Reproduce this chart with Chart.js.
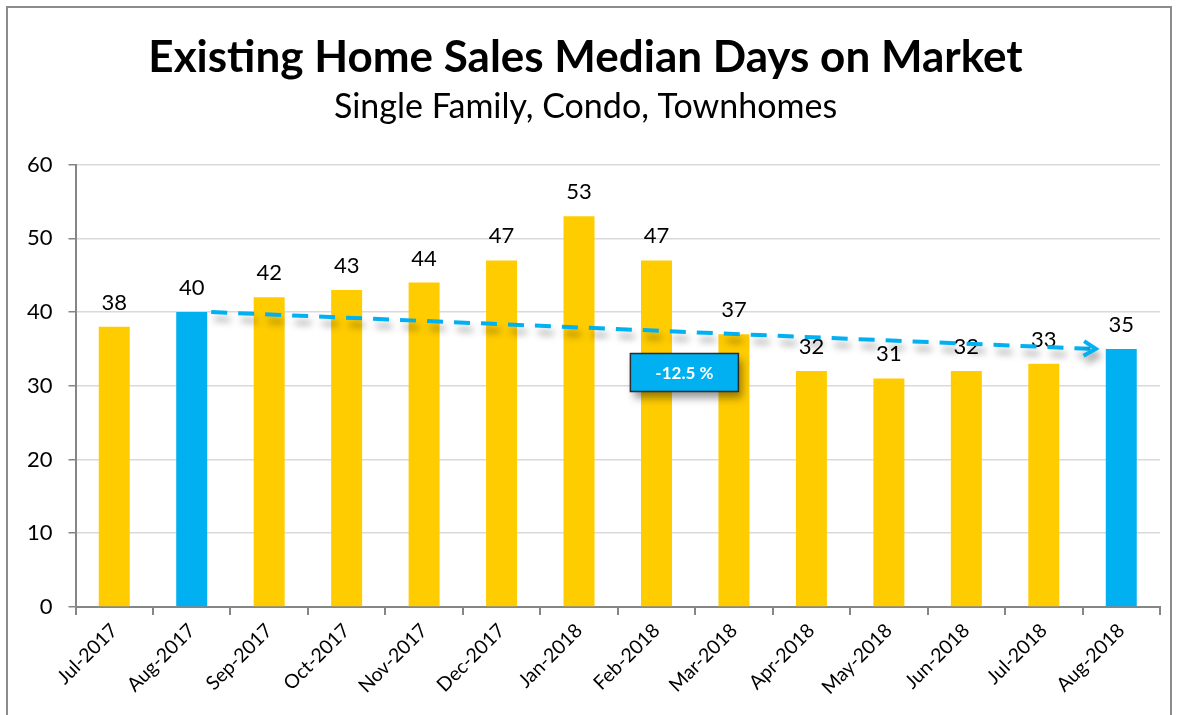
<!DOCTYPE html>
<html>
<head>
<meta charset="utf-8">
<script src="https://cdn.jsdelivr.net/npm/chart.js@4"></script>
<style>
  html, body { margin: 0; padding: 0; background: #fff; }
  #wrap { width: 1179px; height: 715px; position: relative; }
</style>
</head>
<body>
<div id="wrap"><canvas id="chart" width="1179" height="715"></canvas></div>
<script>
const months = ['Jul-2017', 'Aug-2017', 'Sep-2017', 'Oct-2017', 'Nov-2017', 'Dec-2017', 'Jan-2018',
  'Feb-2018', 'Mar-2018', 'Apr-2018', 'May-2018', 'Jun-2018', 'Jul-2018', 'Aug-2018'];
const days = [38, 40, 42, 43, 44, 47, 53, 47, 37, 32, 31, 32, 33, 35];
const highlighted = ['Aug-2017', 'Aug-2018'];
const changeLabel = '-12.5 %';

const YELLOW = '#FFCC00';
const BLUE = '#00B0F0';
const FONT = 'Lato, "Open Sans", sans-serif';

const barColors = months.map(m => highlighted.includes(m) ? BLUE : YELLOW);

// frame around the whole chart
const framePlugin = {
  id: 'frame',
  beforeDraw(chart) {
    const ctx = chart.ctx;
    ctx.save();
    ctx.fillStyle = '#fff';
    ctx.fillRect(0, 0, chart.width, chart.height);
    ctx.strokeStyle = '#8c8c8c';
    ctx.lineWidth = 2;
    ctx.strokeRect(7, 7, 1164, 720);
    ctx.restore();
  }
};

// value labels above bars
const valueLabels = {
  id: 'valueLabels',
  afterDatasetsDraw(chart) {
    const ctx = chart.ctx;
    const meta = chart.getDatasetMeta(0);
    ctx.save();
    ctx.font = '22px ' + FONT;
    ctx.fillStyle = '#000';
    ctx.textAlign = 'center';
    ctx.textBaseline = 'alphabetic';
    meta.data.forEach((bar, i) => {
      ctx.fillText(days[i], bar.x, bar.y - 17);
    });
    ctx.restore();
  }
};

// dashed trend arrow between the highlighted months, plus change box
const trendArrow = {
  id: 'trendArrow',
  afterDatasetsDraw(chart) {
    const ctx = chart.ctx;
    const xs = chart.scales.x;
    const ys = chart.scales.y;
    const meta = chart.getDatasetMeta(0);
    const i0 = months.indexOf(highlighted[0]);
    const i1 = months.indexOf(highlighted[1]);
    const b0 = meta.data[i0];
    const b1 = meta.data[i1];
    const x0 = b0.x + b0.width / 2 + 4;
    const y0 = ys.getPixelForValue(days[i0]);
    const x1 = b1.x - b1.width / 2 - 10;
    const y1 = ys.getPixelForValue(days[i1]);

    ctx.save();
    ctx.shadowColor = 'rgba(0,0,0,0.35)';
    ctx.shadowBlur = 7;
    ctx.shadowOffsetX = 3;
    ctx.shadowOffsetY = 7;
    ctx.strokeStyle = BLUE;
    ctx.lineWidth = 4;
    ctx.setLineDash([16, 11]);
    ctx.beginPath();
    ctx.moveTo(x0, y0);
    ctx.lineTo(x1 - 4, y1);
    ctx.stroke();
    ctx.setLineDash([]);
    const ang = Math.atan2(y1 - y0, x1 - x0);
    ctx.beginPath();
    ctx.moveTo(x1 - 14 * Math.cos(ang - 0.55), y1 - 14 * Math.sin(ang - 0.55));
    ctx.lineTo(x1, y1);
    ctx.lineTo(x1 - 14 * Math.cos(ang + 0.55), y1 - 14 * Math.sin(ang + 0.55));
    ctx.stroke();
    ctx.restore();

    // change box, placed between Feb-2018 and Mar-2018
    const cx = xs.getPixelForValue(7) + 0.36 * (xs.getPixelForValue(8) - xs.getPixelForValue(7));
    const cy = ys.getPixelForValue(31.8);
    const w = 108, h = 38;
    ctx.save();
    ctx.shadowColor = 'rgba(0,0,0,0.4)';
    ctx.shadowBlur = 8;
    ctx.shadowOffsetX = 4;
    ctx.shadowOffsetY = 6;
    ctx.fillStyle = BLUE;
    ctx.fillRect(cx - w / 2, cy - h / 2, w, h);
    ctx.shadowColor = 'transparent';
    ctx.strokeStyle = '#2b2b2b';
    ctx.lineWidth = 1.5;
    ctx.strokeRect(cx - w / 2, cy - h / 2, w, h);
    ctx.fillStyle = '#fff';
    ctx.font = 'bold 17px ' + FONT;
    ctx.textAlign = 'center';
    ctx.textBaseline = 'middle';
    ctx.fillText(changeLabel, cx, cy + 1);
    ctx.restore();
  }
};

const ctx = document.getElementById('chart').getContext('2d');
new Chart(ctx, {
  type: 'bar',
  data: {
    labels: months,
    datasets: [{
      label: 'Median Days on Market',
      data: days,
      backgroundColor: barColors,
      borderWidth: 0,
      categoryPercentage: 1,
      barPercentage: 0.4
    }]
  },
  options: {
    responsive: false,
    animation: false,
    layout: {
      padding: { left: 11, right: 19, top: 31, bottom: 12 }
    },
    scales: {
      y: {
        min: 0,
        max: 60,
        ticks: {
          stepSize: 10,
          color: '#000',
          padding: 16,
          font: { family: FONT, size: 22 }
        },
        grid: {
          color: '#d9d9d9',
          lineWidth: 1.5,
          tickLength: 7,
          tickColor: '#868686'
        },
        border: { color: '#868686', width: 2 }
      },
      x: {
        ticks: {
          color: '#000',
          minRotation: 45,
          maxRotation: 45,
          padding: 4,
          font: { family: FONT, size: 19.5 }
        },
        grid: {
          drawOnChartArea: false,
          offset: true,
          tickLength: 8,
          tickColor: '#868686',
          lineWidth: 2
        },
        border: { color: '#868686', width: 2 }
      }
    },
    plugins: {
      legend: { display: false },
      tooltip: { enabled: false },
      title: {
        display: true,
        text: 'Existing Home Sales Median Days on Market',
        color: '#000',
        font: { family: FONT, size: 44, weight: 'bold' },
        padding: { top: 0, bottom: 3 }
      },
      subtitle: {
        display: true,
        text: 'Single Family, Condo, Townhomes',
        color: '#000',
        font: { family: FONT, size: 34 },
        padding: { top: 0, bottom: 37 }
      }
    }
  },
  plugins: [framePlugin, valueLabels, trendArrow]
});
</script>
</body>
</html>
